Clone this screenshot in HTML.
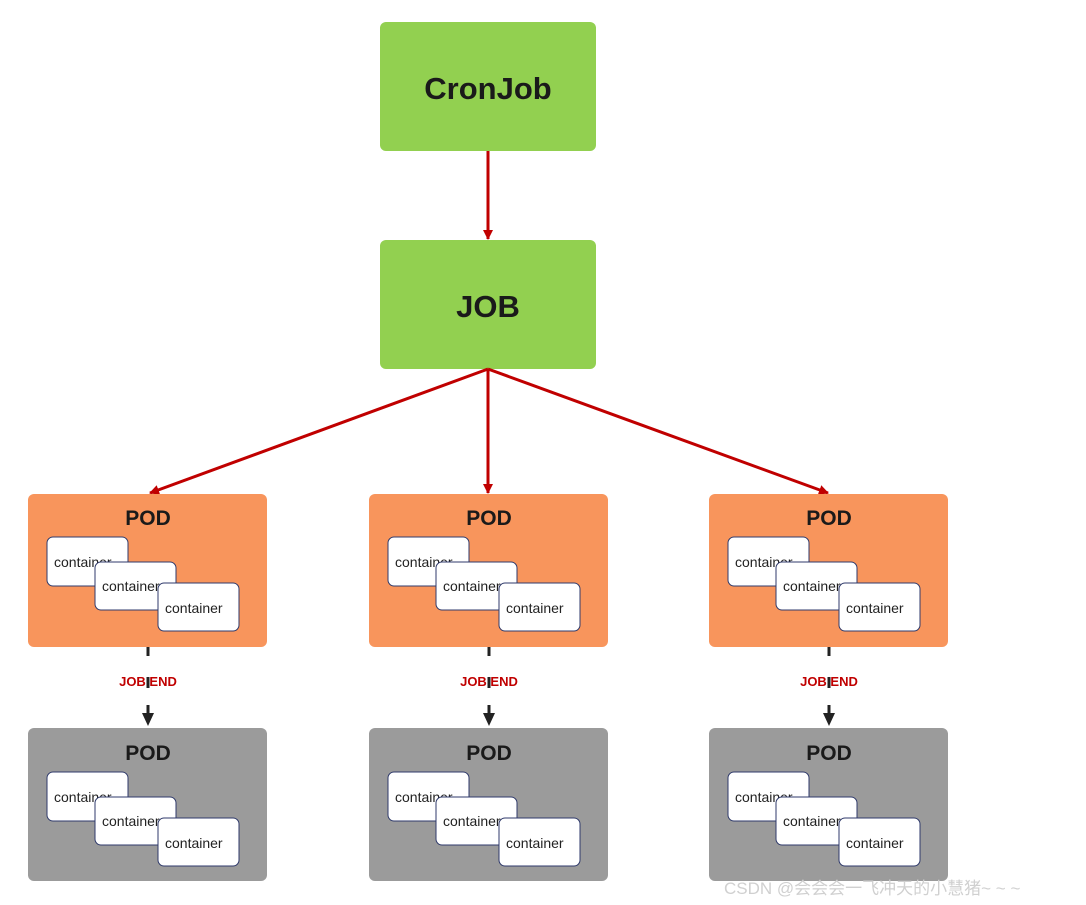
<!DOCTYPE html>
<html><head><meta charset="utf-8"><style>body{margin:0;background:#fff}svg{display:block}</style></head><body>
<svg width="1086" height="905" xmlns="http://www.w3.org/2000/svg" font-family="Liberation Sans, DejaVu Sans, sans-serif">
<defs>
<marker id="ra" markerWidth="10" markerHeight="10" refX="9" refY="5" orient="auto" markerUnits="userSpaceOnUse"><path d="M0,0 L10,5 L0,10z" fill="#c00000"/></marker>
<g id="c">
<rect x="19" y="43" width="81" height="49" rx="6" fill="#fff" stroke="#2f3a6b" stroke-width="1"/>
<text x="26" y="73" font-size="14" fill="#222">container</text>
<rect x="67" y="68" width="81" height="48" rx="6" fill="#fff" stroke="#2f3a6b" stroke-width="1"/>
<text x="74" y="97" font-size="14" fill="#222">container</text>
<rect x="130" y="89" width="81" height="48" rx="6" fill="#fff" stroke="#2f3a6b" stroke-width="1"/>
<text x="137" y="119" font-size="14" fill="#222">container</text>
<text x="120" y="31" font-size="21" font-weight="bold" text-anchor="middle" fill="#1a1a1a">POD</text>
</g>
<g id="col">
<rect x="0" y="494" width="239" height="153" rx="6" fill="#f8955c"/>
<use href="#c" x="0" y="494"/>
<line x1="120" y1="647" x2="120" y2="656" stroke="#222" stroke-width="3"/>
<line x1="120" y1="677" x2="120" y2="688" stroke="#222" stroke-width="3"/>
<line x1="120" y1="705" x2="120" y2="714" stroke="#222" stroke-width="3"/>
<path d="M114,713 L126,713 L120,726z" fill="#222"/>
<text x="120" y="686" font-size="13" font-weight="bold" text-anchor="middle" fill="#c00000">JOB END</text>
<rect x="0" y="728" width="239" height="153" rx="6" fill="#9b9b9b"/>
<use href="#c" x="0" y="729"/>
</g>
</defs>
<rect x="380" y="22" width="216" height="129" rx="6" fill="#92d050"/>
<text x="488" y="99" font-size="31" font-weight="bold" text-anchor="middle" fill="#1a1a1a">CronJob</text>
<rect x="380" y="240" width="216" height="129" rx="6" fill="#92d050"/>
<text x="488" y="317" font-size="31" font-weight="bold" text-anchor="middle" fill="#1a1a1a">JOB</text>
<g stroke="#c00000" stroke-width="3" fill="none">
<line x1="488" y1="151" x2="488" y2="239" marker-end="url(#ra)"/>
<line x1="488" y1="369" x2="150" y2="493" marker-end="url(#ra)"/>
<line x1="488" y1="369" x2="488" y2="493" marker-end="url(#ra)"/>
<line x1="488" y1="369" x2="828" y2="493" marker-end="url(#ra)"/>
</g>
<use href="#col" x="28"/>
<use href="#col" x="369"/>
<use href="#col" x="709"/>
<text x="724" y="894" font-size="17" fill="#d0d0d0" font-family="Liberation Sans, Noto Sans CJK SC, sans-serif">CSDN @会会会一飞冲天的小慧猪~ ~ ~</text>
</svg>
</body></html>
